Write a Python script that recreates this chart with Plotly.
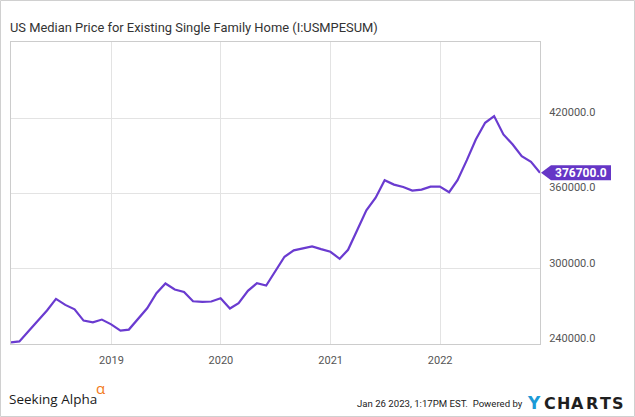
import calendar
import plotly.graph_objects as go

# ---------------- data ----------------
start_year, start_month, n_months = 2018, 1, 59
dates = []
y_, m_ = start_year, start_month
for _ in range(n_months):
    d = calendar.monthrange(y_, m_)[1]
    dates.append(f"{y_:04d}-{m_:02d}-{d:02d}")
    m_ += 1
    if m_ > 12:
        m_ = 1
        y_ += 1

prices = [
    241300, 242100, 250400, 258700, 266700, 276000, 271200, 267700, 258700, 257300, 259500, 255700,
    250700, 251500, 260500, 268500, 280500, 288300, 283500, 281600, 274100, 273600, 273900, 276500,
    268300, 272500, 282400, 288500, 286700, 298100, 309600, 314700, 316000, 317900, 315700, 313600,
    308000, 315200, 331200, 346700, 356800, 370700, 367200, 365300, 362400, 363200, 365600, 365600,
    361100, 370700, 386700, 403200, 416500, 421900, 407200, 399200, 389900, 385300, 376700,
]

y_ticks = [240000, 300000, 360000, 420000]
y_tick_labels = [f"{v:.1f}" for v in y_ticks]
x_ticks = ["2019-01-01", "2020-01-01", "2021-01-01", "2022-01-01"]
x_tick_labels = ["2019", "2020", "2021", "2022"]

title = "US Median Price for Existing Single Family Home (I:USMPESUM)"
timestamp = "Jan 26 2023, 1:17PM EST.  Powered by"

# ---------------- layout geometry ----------------
W, H = 635, 417
ML, MR, MT, MB = 11, 95, 42, 73
PW, PH = W - ML - MR, H - MT - MB
LINE = "#6a3bd0"
FLAG = "#6536c6"


def px(x):
    return (x - ML) / PW


def py(y):
    return (H - MB - y) / PH


fig = go.Figure()
fig.add_trace(go.Scatter(
    x=dates, y=prices, mode="lines",
    line=dict(color=LINE, width=2.2),
    hoverinfo="x+y", showlegend=False,
))

last_val = prices[-1]
ypp = (481000 - 240000) / PH  # data units per pixel
fh = 7.5 * ypp
x_tip, x_box0, x_box1 = px(541), px(551), px(611)
flag_path = (f"M {x_tip},{last_val} L {x_box0},{last_val + fh} L {x_box1},{last_val + fh} "
             f"L {x_box1},{last_val - fh} L {x_box0},{last_val - fh} Z")

fig.update_layout(
    width=W, height=H,
    margin=dict(l=ML, r=MR, t=MT, b=MB),
    paper_bgcolor="white", plot_bgcolor="white",
    font=dict(family="Roboto, sans-serif", color="#555555", size=11),
    xaxis=dict(
        type="date", range=[dates[0], dates[-1]],
        tickvals=x_ticks, ticktext=x_tick_labels,
        showgrid=True, gridcolor="#e3e3e3", gridwidth=1,
        showline=True, linecolor="#cccccc", linewidth=1, mirror=True,
        ticks="", ticklabelstandoff=6, zeroline=False,
        tickfont=dict(family="Roboto, sans-serif", size=11, color="#555555"),
    ),
    yaxis=dict(
        side="right", range=[240000, 481000],
        tickvals=y_ticks, ticktext=y_tick_labels,
        showgrid=True, gridcolor="#e3e3e3", gridwidth=1,
        showline=True, linecolor="#cccccc", linewidth=1, mirror=True,
        ticks="", ticklabelstandoff=6, ticklabelshift=-6, zeroline=False,
        tickfont=dict(family="Roboto, sans-serif", size=11, color="#555555"),
    ),
    shapes=[
        dict(type="path", xref="paper", yref="y", path=flag_path,
             fillcolor=FLAG, line=dict(width=0), layer="above"),
        dict(type="rect", xref="paper", yref="paper",
             x0=px(0.5), x1=px(W - 0.5), y0=py(0.5), y1=py(H - 0.5),
             line=dict(color="#d0d0d0", width=1), fillcolor="rgba(0,0,0,0)"),
    ],
    annotations=[
        dict(text=title, xref="paper", yref="paper", x=px(8), y=py(27.5),
             xanchor="left", yanchor="middle", showarrow=False,
             font=dict(family="Roboto, sans-serif", size=12.9, color="#333333")),
        dict(text=f"<b>{last_val:.1f}</b>", xref="paper", yref="y",
             x=(x_box0 + x_box1) / 2, y=last_val, xanchor="center", yanchor="middle",
             showarrow=False, font=dict(family="Roboto, sans-serif", size=12, color="white")),
        dict(text="Seeking Alpha", xref="paper", yref="paper", x=px(7), y=py(399),
             xanchor="left", yanchor="middle", showarrow=False,
             font=dict(family="Open Sans, sans-serif", size=13.5, color="#1a1a1a")),
        dict(text="α", xref="paper", yref="paper", x=px(94), y=py(388),
             xanchor="left", yanchor="middle", showarrow=False,
             font=dict(family="Open Sans, sans-serif", size=15, color="#f27a21")),
        dict(text=timestamp, xref="paper", yref="paper", x=px(525), y=py(404),
             xanchor="right", yanchor="middle", showarrow=False,
             font=dict(family="Roboto, sans-serif", size=9.6, color="#222222")),
        dict(text="<b>Y</b>", xref="paper", yref="paper", x=px(533.5), y=py(403),
             xanchor="center", yanchor="middle", showarrow=False,
             font=dict(family="DejaVu Sans, sans-serif", size=17, color="#1b9ad6")),
    ] + [
        dict(text=f"<b>{ch}</b>", xref="paper", yref="paper", x=px(cx), y=py(403),
             xanchor="center", yanchor="middle", showarrow=False,
             font=dict(family="DejaVu Sans, sans-serif", size=16, color="#1f1f1f"))
        for ch, cx in zip("CHARTS", [549.5, 563.5, 577.5, 591.5, 605, 618])
    ],
)

fig.write_html("out.html")
